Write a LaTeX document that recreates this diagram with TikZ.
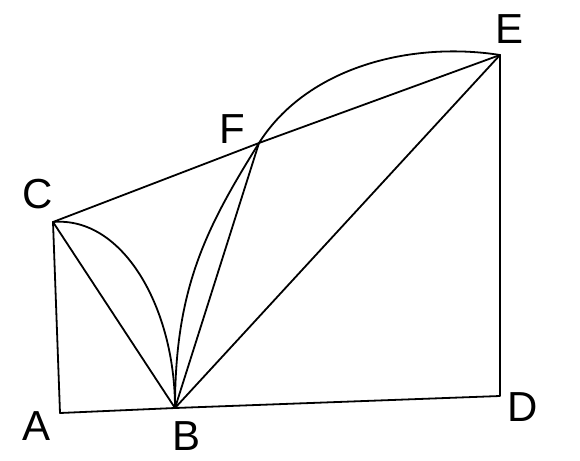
\documentclass[tikz,border=0pt]{standalone}
\usepackage{fontspec}
\setmainfont{Liberation Sans}
\begin{document}
\begin{tikzpicture}[x=1pt,y=-1pt,
  edge/.style={line width=1.8pt,line join=round,line cap=round},
  lbl/.style={inner sep=0pt,font=\fontsize{42}{50}\selectfont}]
\useasboundingbox (0,0) rectangle (580,460);
\coordinate (A) at (60,413);
\coordinate (B) at (175,408);
\coordinate (C) at (53,222);
\coordinate (D) at (500,396);
\coordinate (E) at (500,55);
\coordinate (F) at (259,143);
\draw[edge] (C) -- (A) -- (B) -- (D) -- (E);
\draw[edge] (C) -- (F) -- (E);
\draw[edge] (C) -- (B);
\draw[edge] (B) -- (F);
\draw[edge] (B) -- (E);
\draw[edge] (C) .. controls (123,216) and (175,308) .. (B);
\draw[edge] (B) .. controls (175,288) and (206,228) .. (F)
            .. controls (307,67) and (411,41) .. (E);
\node[lbl] (lA) at (37,426) {A};
\node[lbl] (lB) at (187,436) {B};
\node[lbl] (lC) at (38,194) {C};
\node[lbl] (lD) at (523,407) {D};
\node[lbl] (lE) at (509,29) {E};
\node[lbl] (lF) at (232,129) {F};
\end{tikzpicture}
\end{document}
